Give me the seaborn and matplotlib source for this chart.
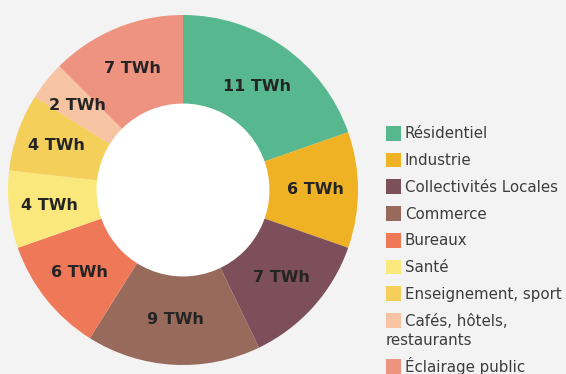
import matplotlib
matplotlib.use("Agg")
import numpy as np
import matplotlib.pyplot as plt
import seaborn as sns
from matplotlib.patches import Rectangle

# Consommation d'électricité par secteur (TWh)
secteurs = [
    "Résidentiel",
    "Industrie",
    "Collectivités Locales",
    "Commerce",
    "Bureaux",
    "Santé",
    "Enseignement, sport",
    "Cafés, hôtels,\nrestaurants",
    "Éclairage public",
]
valeurs = [11, 6, 7, 9, 6, 4, 4, 2, 7]
couleurs = [
    "#57b890", "#eeb224", "#7d4f5a", "#976a5c", "#ef7859",
    "#fbe87c", "#f4cf5a", "#f6c3a3", "#ef9381",
]

sns.set_theme(style="white")
plt.rcParams["font.family"] = ["DejaVu Sans"]

fond = "#f3f3f3"
texte_legende = "#3c3c3c"
L, H = 566, 374
fig = plt.figure(figsize=(L / 100, H / 100), dpi=100, facecolor=fond)
ax = fig.add_axes([8 / L, 9 / H, 350 / L, 350 / H])
ax.set_facecolor(fond)

R_EXT, R_INT = 1.0, 0.49
palette = sns.color_palette(couleurs)
wedges, _ = ax.pie(
    valeurs,
    colors=palette,
    startangle=90,
    counterclock=False,
    radius=R_EXT,
    wedgeprops=dict(width=R_EXT - R_INT, edgecolor="none", linewidth=0),
)
ax.add_patch(plt.Circle((0, 0), R_INT, color="white", zorder=3))

# value labels at the centroid of each ring sector
for w, v in zip(wedges, valeurs):
    t1, t2 = np.radians(w.theta1), np.radians(w.theta2)
    demi = abs(t2 - t1) / 2
    milieu = (t1 + t2) / 2
    rc = (2 / 3) * (R_EXT**3 - R_INT**3) / (R_EXT**2 - R_INT**2) * np.sin(demi) / demi
    ax.text(rc * np.cos(milieu), rc * np.sin(milieu), f"{v} TWh",
            ha="center", va="center", fontsize=11.5, fontweight="bold",
            color="#242424", zorder=4)

ax.set_xlim(-1, 1)
ax.set_ylim(-1, 1)
ax.set_aspect("equal")
ax.axis("off")

# legend: colour square + label; a long label wraps under its square
X_CARRE, COTE, X_TEXTE = 386, 14.7, 405
Y0, PAS, PAS_LIGNE = 133.3, 26.75, 19.5
TAILLE = 10.8


def fig_xy(x, y):
    return x / L, 1 - y / H


y = Y0
for w, libelle in zip(wedges, secteurs):
    x0, y0 = fig_xy(X_CARRE, y + COTE / 2)
    fig.add_artist(Rectangle((x0, y0), COTE / L, COTE / H,
                             transform=fig.transFigure,
                             facecolor=w.get_facecolor(), edgecolor="none"))
    lignes = libelle.split("\n")
    for k, ligne in enumerate(lignes):
        xt = X_TEXTE if k == 0 else X_CARRE
        fig.text(*fig_xy(xt, y + k * PAS_LIGNE + 5), ligne,
                 ha="left", va="baseline", fontsize=TAILLE, color=texte_legende)
    y += PAS + PAS_LIGNE * (len(lignes) - 1)

fig.savefig("out.png", dpi=100, facecolor=fond)
